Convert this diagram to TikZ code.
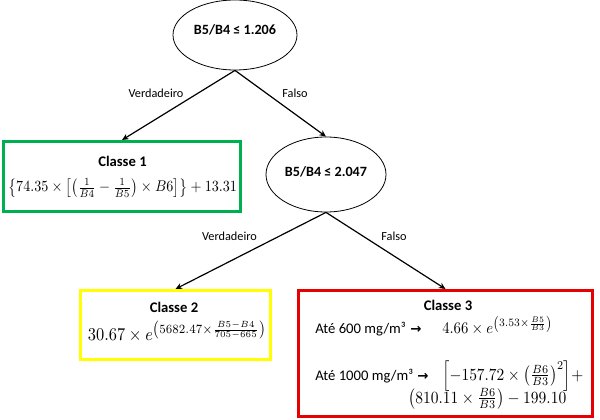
\documentclass[tikz,border=0pt]{standalone}
\usepackage{amsmath}
\usepackage{graphicx}
\usepackage{fontspec}
\setmainfont{Carlito}
\newfontfamily\arrowfont{DejaVu Sans}
\usetikzlibrary{shapes.geometric,arrows.meta}
\definecolor{cgreen}{RGB}{0,176,80}
\definecolor{cyellow}{RGB}{255,255,0}
\definecolor{cred}{RGB}{230,0,0}
\newcommand{\lbl}{\fontsize{9.2}{11}\selectfont}
\newcommand{\cond}{\fontsize{10.6}{13}\selectfont\bfseries}
\newcommand{\ttl}{\fontsize{11}{13}\selectfont\bfseries}
\newcommand{\txt}{\fontsize{11}{13}\selectfont}
\newcommand{\fitw}[2]{\scalebox{1}[1.1]{\resizebox{#1}{!}{$#2$}}}
\tikzset{
  decision/.style={ellipse,draw=black,line width=0.6pt,inner sep=0pt},
  leafbox/.style={rectangle,draw,line width=2.25pt,inner sep=0pt},
  conn/.style={draw=black,line width=0.9pt,-{Stealth[length=5pt,width=4.5pt]}},
  lbltext/.style={anchor=base,inner sep=0pt,font=\lbl},
  txtnode/.style={inner sep=0pt}
}
\begin{document}
\begin{tikzpicture}[x=0.75pt,y=-0.75pt]
\useasboundingbox (0,0) rectangle (600,420);
% decisions
\node[decision,minimum width=93pt,minimum height=52.5pt] (e1) at (235,35) {};
\node[txtnode,anchor=base] (e1t) at (235,35) {\cond B5/B4 ≤ 1.206};
\node[decision,minimum width=90pt,minimum height=56.25pt] (e2) at (326,174.5) {};
\node[txtnode,anchor=base] (e2t) at (326,177) {\cond B5/B4 ≤ 2.047};
% leaves
\node[leafbox,draw=cgreen,minimum width=177.75pt,minimum height=52.5pt] (b1) at (122,176.5) {};
\node[leafbox,draw=cyellow,minimum width=142.5pt,minimum height=51.75pt] (b2) at (175.5,325) {};
\node[leafbox,draw=cred,minimum width=220.5pt,minimum height=94.5pt] (b3) at (445.5,353.5) {};
% connectors
\draw[conn] (e1.south) -- (b1.north);
\draw[conn] (e1.south) -- (e2.north);
\draw[conn] (e2.south) -- (b2.north);
\draw[conn] (e2.south) -- (b3.north);
% labels
\node[lbltext] (l1) at (156,98) {Verdadeiro};
\node[lbltext] (l2) at (295,98) {Falso};
\node[lbltext] (l3) at (229.5,241) {Verdadeiro};
\node[lbltext] (l4) at (394,241) {Falso};
% box 1
\node[txtnode,anchor=base] (c1) at (122.5,167) {\ttl Classe 1};
\node[txtnode,anchor=base] (f1) at (122.5,192) {\fitw{171.75pt}{\bigl\{74.35\times\bigl[\bigl(\tfrac{1}{B4}-\tfrac{1}{B5}\bigr)\times B6\bigr]\bigr\}+13.31}};
% box 2
\node[txtnode,anchor=base] (c2) at (174,313) {\ttl Classe 2};
\node[txtnode,anchor=base] (f2) at (177,341) {\fitw{133.5pt}{30.67\times e^{\left(5682.47\times\frac{B5-B4}{705-665}\right)}}};
% box 3
\node[txtnode,anchor=base] (c3) at (448,311) {\ttl Classe 3};
\node[txtnode,anchor=base west] (g1) at (315,334) {\txt Até 600 mg/m³};
\node[txtnode,anchor=base west] (a1) at (410,334) {\arrowfont\bfseries\fontsize{10}{12}\selectfont →};
\node[txtnode,anchor=base west] (m1) at (442,334) {\fitw{82.5pt}{4.66\times e^{\left(3.53\times\frac{B5}{B3}\right)}}};
\node[txtnode,anchor=base west] (g2) at (315,380) {\txt Até 1000 mg/m³};
\node[txtnode,anchor=base west] (a2) at (417,380) {\arrowfont\bfseries\fontsize{10}{12}\selectfont →};
\node[txtnode,anchor=base west] (m2) at (442,380) {\fitw{105.75pt}{\Bigl[-157.72\times\bigl(\tfrac{B6}{B3}\bigr)^{2}\Bigr]+}};
\node[txtnode,anchor=base west] (g3) at (408,403) {\fitw{118.5pt}{\bigl(810.11\times\tfrac{B6}{B3}\bigr)-199.10}};
\end{tikzpicture}
\end{document}
